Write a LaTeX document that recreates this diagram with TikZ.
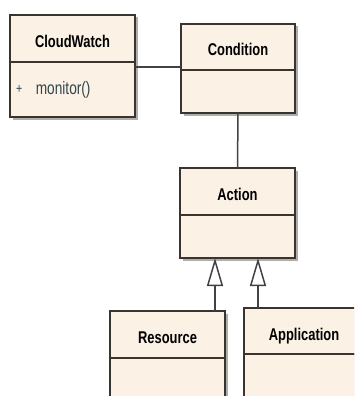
\documentclass[tikz,border=0pt]{standalone}
\usepackage{fontspec}
\newfontfamily\umlfont[FakeStretch=0.76]{Liberation Sans}
\usetikzlibrary{arrows.meta, positioning, shadows}
\definecolor{classfill}{RGB}{251,241,228}
\definecolor{classline}{RGB}{58,52,46}
\definecolor{linkgray}{RGB}{66,66,66}
\definecolor{membertext}{RGB}{50,70,78}
\tikzset{
  classhead/.style={rectangle, draw=classline, fill=classfill, line width=1.6pt, outer sep=0pt, minimum width=#1, minimum height=47pt, font=\umlfont\bfseries\fontsize{17}{19}\selectfont, text height=18pt, text depth=0pt, drop shadow={shadow xshift=2.5pt, shadow yshift=-2.5pt, fill=black!45, opacity=0.7}},
  classhead/.default=115pt,
  classbody/.style={rectangle, draw=classline, fill=classfill, line width=1.6pt, outer sep=0pt, minimum width=#1, minimum height=43pt, drop shadow={shadow xshift=2.5pt, shadow yshift=-2.5pt, fill=black!45, opacity=0.7}},
  classbody/.default=115pt,
  member/.style={inner sep=0pt, text=membertext, font=\umlfont\fontsize{18}{20}\selectfont},
  assoc/.style={line width=1.5pt, color=linkgray},
  inherit/.style={line width=1.5pt, color=linkgray, -{Triangle[open, length=28pt, width=16pt, fill=white]}},
}
\begin{document}
\begin{tikzpicture}[x=1pt, y=-1pt]
  \useasboundingbox (0,0) rectangle (354,396);
  \clip (0,0) rectangle (354,396);
  % classes
  \node[classhead=125pt] (cw) at (72.5,38.5) {CloudWatch};
  \node[classbody=125pt, minimum height=55pt, below=0pt of cw] (cwbody) {};
  \node[member, right=6pt of cwbody.west, font=\umlfont\fontsize{14}{16}\selectfont] (plus) {+};
  \node[member, right=13pt of plus] (monitor) {monitor()};
  \node[classhead=114pt, minimum height=46pt] (cond) at (238,47) {Condition};
  \node[classbody=114pt, below=0pt of cond] (condbody) {};
  \node[classhead] (act) at (237.5,191.5) {Action};
  \node[classbody, below=0pt of act] (actbody) {};
  \node[classhead] (res) at (167.5,334.5) {Resource};
  \node[classbody, minimum height=60pt, below=0pt of res] (resbody) {};
  \node[classhead=120pt, minimum height=46pt] (app) at (304,331) {Application};
  \node[classbody=120pt, minimum height=60pt, below=0pt of app] (appbody) {};
  % connectors
  \coordinate (link) at ([yshift=-5pt]cwbody.north east);
  \draw[assoc] (link) -- (link -| cond.west);
  \draw[assoc] (condbody.south) -- (act.north);
  \coordinate (resup) at ([xshift=-10pt]res.north east);
  \coordinate (appup) at ([xshift=14pt]app.north west);
  \draw[inherit] (resup) -- (resup |- actbody.south);
  \draw[inherit] (appup) -- (appup |- actbody.south);
\end{tikzpicture}
\end{document}
